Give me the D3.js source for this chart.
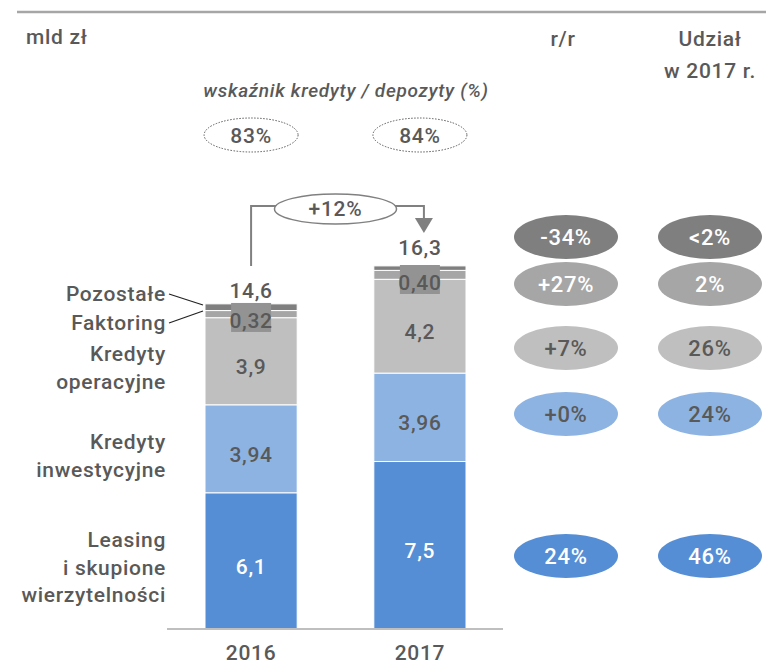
<!DOCTYPE html>
<html>
<head>
<meta charset="utf-8">
<script src="https://cdn.jsdelivr.net/npm/d3@7"></script>
<style>
  body { margin: 0; background: #fff; }
  svg { display: block; font-family: Roboto, "Noto Sans", sans-serif; }
  .lbl { fill: #595959; font-size: 21px; font-weight: 500; letter-spacing: 0.7px; }
</style>
</head>
<body>
<svg id="chart" width="766" height="665"></svg>
<script>
// values in mld zł
var years = ["2016", "2017"];
var leasing = [6.1, 7.5];
var inwestycyjne = [3.94, 3.96];
var operacyjne = [3.9, 4.2];
var faktoring = [0.32, 0.40];
var pozostale = [0.3, 0.2];
var totals = [14.6, 16.3];
var ratioLD = ["83%", "84%"];
var growthLabel = "+12%";

// keys bottom -> top
var keys = ["leasing", "inwestycyjne", "operacyjne", "faktoring", "pozostale"];
var keyNames = {
  leasing: ["Leasing", "i skupione", "wierzytelności"],
  inwestycyjne: ["Kredyty", "inwestycyjne"],
  operacyjne: ["Kredyty", "operacyjne"],
  faktoring: ["Faktoring"],
  pozostale: ["Pozostałe"]
};
var yoy = ["24%", "+0%", "+7%", "+27%", "-34%"];
var share = ["46%", "24%", "26%", "2%", "<2%"];

var colors = {
  leasing: "#558ed5",
  inwestycyjne: "#8db3e2",
  operacyjne: "#bfbfbf",
  faktoring: "#a6a6a6",
  pozostale: "#7f7f7f"
};
var textOn = {
  leasing: "#fff", inwestycyjne: "#595959", operacyjne: "#595959",
  faktoring: "#fff", pozostale: "#fff"
};
var fmt = { leasing: ".1f", inwestycyjne: ".2f", operacyjne: ".1f", faktoring: ".2f" };
var comma = (f, v) => d3.format(f)(v).replace(".", ",");

var data = years.map((y, i) => ({
  year: y, leasing: leasing[i], inwestycyjne: inwestycyjne[i],
  operacyjne: operacyjne[i], faktoring: faktoring[i], pozostale: pozostale[i],
  total: totals[i]
}));

var svg = d3.select("#chart");
var baseY = 629;

var xScale = d3.scaleBand()
  .domain(years)
  .range([205, 466])
  .paddingInner(0.454)
  .paddingOuter(0);

var yScale = d3.scaleLinear()
  .domain([0, 16.3])
  .range([baseY, 265]);

var series = d3.stack().keys(keys)(data);
var bw = xScale.bandwidth();
var cx = y => xScale(y) + bw / 2;

// top rule
svg.append("line")
  .attr("x1", 17).attr("x2", 766).attr("y1", 12).attr("y2", 12)
  .attr("stroke", "#a6a6a6").attr("stroke-width", 2.5);

svg.append("text").attr("class", "lbl").attr("x", 26).attr("y", 44).text("mld zł");

// column headers
var colRR = 566, colShare = 710;
svg.append("text").attr("class", "lbl").attr("x", colRR - 3).attr("y", 46)
  .attr("text-anchor", "middle").text("r/r");
svg.append("text").attr("class", "lbl").attr("x", colShare).attr("y", 46)
  .attr("text-anchor", "middle").text("Udział");
svg.append("text").attr("class", "lbl").attr("x", colShare).attr("y", 78)
  .attr("text-anchor", "middle").text("w 2017 r.");

// loans / deposits ratio
svg.append("text").attr("class", "lbl")
  .attr("x", 346).attr("y", 97)
  .attr("text-anchor", "middle")
  .style("font-style", "italic").style("font-size", "19px")
  .text("wskaźnik kredyty / depozyty (%)");

var ratioG = svg.append("g").selectAll("g")
  .data(years)
  .join("g")
  .attr("transform", (d) => `translate(${cx(d)}, 135)`);
ratioG.append("ellipse")
  .attr("rx", 47).attr("ry", 17)
  .attr("fill", "none").attr("stroke", "#595959")
  .attr("stroke-width", 1).attr("stroke-dasharray", "1.5,1.5");
ratioG.append("text").attr("class", "lbl")
  .attr("text-anchor", "middle").attr("y", 8)
  .text((d, i) => ratioLD[i]);

// bars
svg.append("g")
  .selectAll("g")
  .data(series)
  .join("g")
  .attr("fill", d => colors[d.key])
  .selectAll("rect")
  .data(d => d)
  .join("rect")
  .attr("x", d => xScale(d.data.year))
  .attr("y", d => yScale(d[1]))
  .attr("width", bw)
  .attr("height", d => yScale(d[0]) - yScale(d[1]))
  .attr("stroke", "#fff")
  .attr("stroke-width", 1);

// axis line
svg.append("line")
  .attr("x1", 167).attr("x2", 503).attr("y1", baseY).attr("y2", baseY)
  .attr("stroke", "#bfbfbf").attr("stroke-width", 2);

svg.append("g").selectAll("text")
  .data(years)
  .join("text")
  .attr("class", "lbl")
  .attr("x", d => cx(d)).attr("y", 660)
  .attr("text-anchor", "middle")
  .text(d => d);

// segment values
["leasing", "inwestycyjne", "operacyjne"].forEach(k => {
  var s = series.find(d => d.key === k);
  svg.append("g").selectAll("text")
    .data(s)
    .join("text")
    .attr("class", "lbl")
    .attr("x", d => cx(d.data.year))
    .attr("y", d => (yScale(d[0]) + yScale(d[1])) / 2 + 13)
    .attr("text-anchor", "middle")
    .style("fill", textOn[k])
    .text(d => comma(fmt[k], d.data[k]));
});

// faktoring value boxes on top of bars
var fkG = svg.append("g").selectAll("g")
  .data(data)
  .join("g")
  .attr("transform", d => `translate(${cx(d.year)}, ${yScale(d.total)})`);
fkG.append("rect")
  .attr("x", -20).attr("y", 0).attr("width", 40).attr("height", 29)
  .attr("fill", "#939393");
fkG.append("text").attr("class", "lbl")
  .attr("text-anchor", "middle").attr("y", 25)
  .text(d => comma(fmt.faktoring, d.faktoring));

// totals
svg.append("g").selectAll("text")
  .data(data)
  .join("text")
  .attr("class", "lbl")
  .attr("x", d => cx(d.year))
  .attr("y", (d, i) => yScale(d.total) - (i === 0 ? 5 : 10))
  .attr("text-anchor", "middle")
  .text(d => comma(".1f", d.total));

// growth arrow
var x0 = cx(years[0]), x1 = cx(years[1]) + 4, midX = (x0 + cx(years[1])) / 2;
var arrowY = 206;
svg.append("path")
  .attr("d", `M${x0},${yScale(totals[0]) - 37}V${arrowY}H${x1}V${yScale(totals[1]) - 46}`)
  .attr("fill", "none").attr("stroke", "#808080").attr("stroke-width", 2);
svg.append("path")
  .attr("d", d3.line()([[x1 - 9, yScale(totals[1]) - 47], [x1 + 9, yScale(totals[1]) - 47], [x1, yScale(totals[1]) - 32]]) + "Z")
  .attr("fill", "#808080");
svg.append("ellipse")
  .attr("cx", midX).attr("cy", 209).attr("rx", 61).attr("ry", 15)
  .attr("fill", "#fff").attr("stroke", "#808080").attr("stroke-width", 1.5);
svg.append("text").attr("class", "lbl")
  .attr("x", midX).attr("y", 216).attr("text-anchor", "middle")
  .text(growthLabel);

// category labels, left of 2016 bar
var first = series.map(s => ({ key: s.key, d: s[0] }));
var lineH = 27.5;
first.filter(f => ["leasing", "inwestycyjne", "operacyjne"].includes(f.key)).forEach(f => {
  var mid = (yScale(f.d[0]) + yScale(f.d[1])) / 2;
  var lines = keyNames[f.key];
  var y0 = mid - (lines.length - 1) * lineH / 2 + 14;
  svg.append("g").selectAll("text")
    .data(lines)
    .join("text")
    .attr("class", "lbl")
    .attr("x", 166)
    .attr("y", (d, i) => y0 + i * lineH)
    .attr("text-anchor", "end")
    .text(d => d);
});

var top2016 = yScale(totals[0]);
var small = [
  { key: "pozostale", y: top2016 - 2, lineTo: top2016 + 2 },
  { key: "faktoring", y: top2016 + 27, lineTo: top2016 + 8 }
];
small.forEach(s => {
  svg.append("text").attr("class", "lbl")
    .attr("x", 166).attr("y", s.y).attr("text-anchor", "end")
    .text(keyNames[s.key][0]);
  svg.append("line")
    .attr("x1", 169).attr("y1", s.y - 7)
    .attr("x2", xScale(years[0]) - 2).attr("y2", s.lineTo)
    .attr("stroke", "#222").attr("stroke-width", 1.2);
});

// r/r and share badges
var rowY = [556, 414, 348, 284, 237];
var badges = svg.append("g").selectAll("g")
  .data(keys)
  .join("g");
[[colRR, yoy], [colShare, share]].forEach(([colX, vals]) => {
  badges.append("ellipse")
    .attr("cx", colX).attr("cy", (d, i) => rowY[i])
    .attr("rx", 52).attr("ry", 22)
    .attr("fill", d => colors[d]);
  badges.append("text")
    .attr("class", "lbl")
    .attr("x", colX).attr("y", (d, i) => rowY[i] + 8)
    .attr("text-anchor", "middle")
    .style("font-size", "22px")
    .style("fill", d => textOn[d])
    .text((d, i) => vals[i]);
});
</script>
</body>
</html>
